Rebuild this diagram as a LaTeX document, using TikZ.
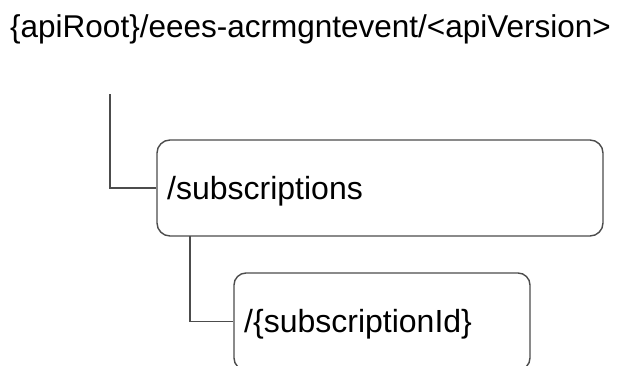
\documentclass[tikz,border=0pt]{standalone}
\usepackage{fontspec}
\setmainfont{Liberation Sans}
\begin{document}
\begin{tikzpicture}[x=1pt,y=-1pt,
  conn/.style={draw=black!70, line width=1.4pt},
  resbox/.style={draw=black!70, line width=1.4pt, rounded corners=13pt, rectangle, inner sep=0pt},
  lbl/.style={inner sep=0pt, anchor=base west, font=\fontsize{32}{38}\selectfont}]
\useasboundingbox (0,0) rectangle (625,365);
\clip (0,0) rectangle (625,365);
\node[lbl, font=\fontsize{31.5}{38}\selectfont] (root) at (10,37) {\{apiRoot\}/eees-acrmgntevent/<apiVersion>};
\node[resbox, minimum width=446pt, minimum height=96pt] (box1) at (380,188) {};
\node[lbl] (t1) at (167,199.5) {/subscriptions};
\node[resbox, minimum width=296pt, minimum height=97pt, rounded corners=12pt] (box2) at (382,321.5) {};
\node[lbl] (t2) at (244,332) {/\{subscriptionId\}};
\coordinate (r1) at (110,94);
\coordinate (c2) at (190,236);
\draw[conn] (r1) |- (box1.west);
\draw[conn] (c2) |- (box2.west);
\end{tikzpicture}
\end{document}
